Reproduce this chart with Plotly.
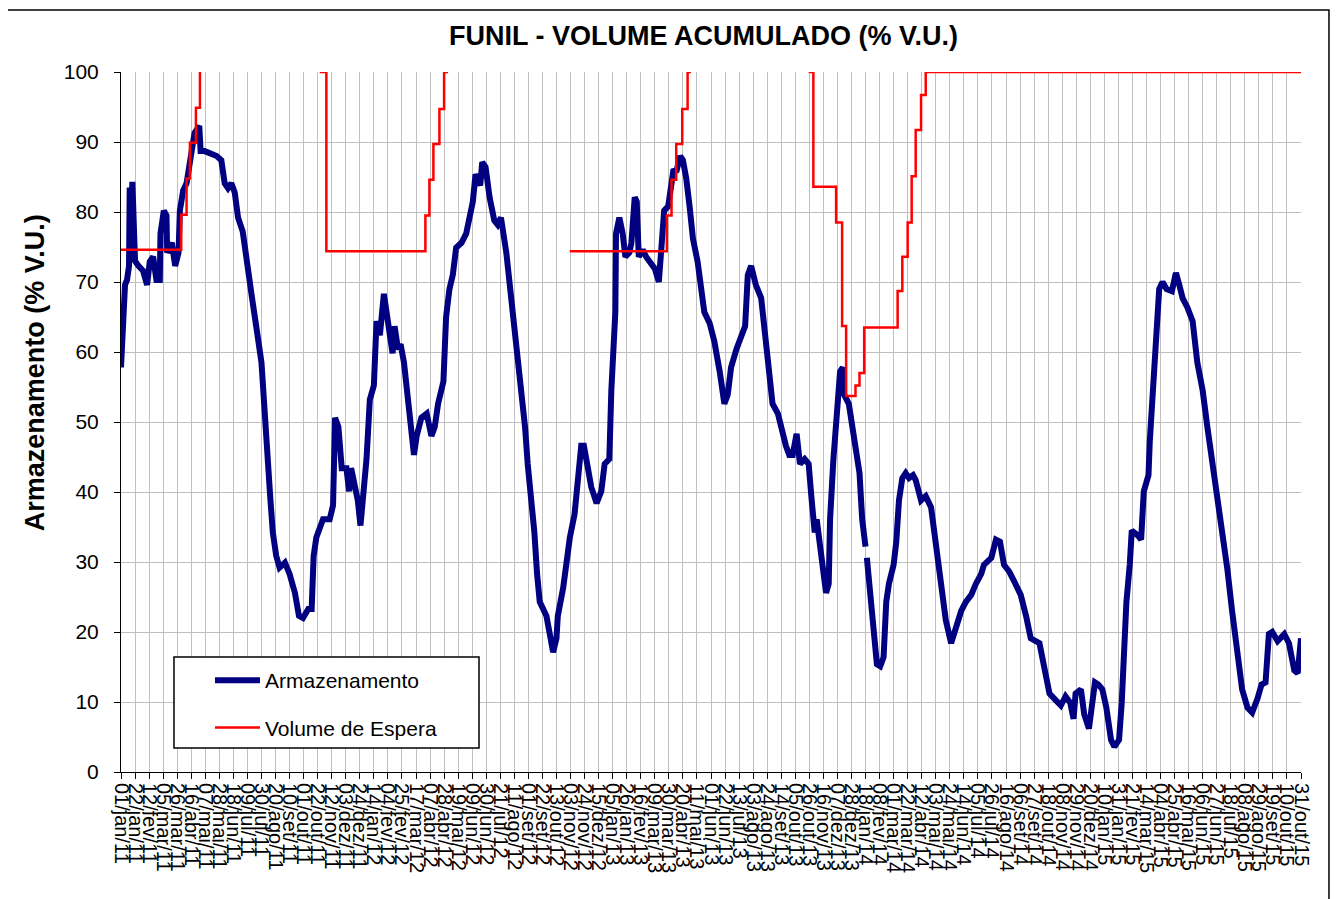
import plotly.graph_objects as go
import pandas as pd

inicio = pd.Timestamp("2011-01-01")

# Armazenamento (% V.U.) -- dia = dias desde 01/jan/11
dia_arm = [0, 4, 6, 9, 12, 13, 15, 17, 19, 21, 26, 33, 39, 43, 48, 53, 58, 59, 64, 68, 69, 76, 81, 86, 88, 93,
           98, 101, 106, 110, 117, 119, 125, 135, 143, 150, 155, 160, 165, 170, 175, 182, 188, 195, 203, 210,
           214, 218, 223, 227, 232, 237, 245, 252, 260, 266, 272, 280, 285, 288, 292, 302, 312, 317, 320, 325,
           330, 337, 341, 344, 349, 354, 358, 362, 367, 372, 378, 382, 387, 393, 397, 402, 406, 409, 414, 418,
           423, 428, 434, 438, 442, 449, 457, 464, 469, 474, 482, 486, 491, 496, 501, 509, 516, 521, 526, 530,
           533, 537, 540, 545, 551, 558, 563, 568, 576, 583, 586, 593, 599, 604, 608, 613, 618, 622, 626, 636,
           641, 646, 651, 653, 661, 666, 671, 678, 683, 688, 692, 697, 703, 711, 718, 723, 730, 733, 736, 739,
           740, 745, 750, 754, 760, 763, 768, 771, 774, 780, 785, 793, 798, 804, 808, 812, 818, 823, 826, 830,
           836, 840, 845, 850, 855, 862, 867, 872, 880, 887, 895, 902, 907, 912, 920, 927, 933, 937, 942, 949,
           957, 963, 969, 974, 982, 988, 994, 999, 1004, 1010, 1015, 1022, 1028, 1032, 1037, 1040, 1044, 1049,
           1054, 1058, 1060, 1065, 1069, 1071, 1075, 1079, 1081, 1088, 1094, 1099, 1104, 1108, 1113, 1114,
           1115, 1119, 1124, 1130, 1135, 1140, 1144, 1148, 1155, 1159, 1163, 1168, 1173, 1178, 1184, 1188,
           1196, 1203, 1211, 1218, 1226, 1233, 1241, 1248, 1256, 1263, 1271, 1278, 1286, 1290, 1301, 1308,
           1314, 1320, 1328, 1337, 1345, 1353, 1360, 1373, 1380, 1388, 1398, 1405, 1412, 1419, 1424, 1427,
           1435, 1440, 1447, 1451, 1456, 1461, 1467, 1473, 1480, 1485, 1492, 1496, 1500, 1503, 1508, 1511,
           1520, 1525, 1529, 1536, 1538, 1542, 1547, 1549, 1552, 1557, 1563, 1571, 1577, 1582, 1587, 1594,
           1602, 1609, 1617, 1624, 1631, 1639, 1646, 1654, 1661, 1669, 1676, 1684, 1691, 1699, 1705, 1711,
           1716, 1721, 1729, 1739, 1746, 1754, 1759, 1764]
armazenamento = [57.8, 65.0, 69.6, 70.3, 72.3, 83.5, 78.0, 84.3, 80.0, 73.0, 72.3, 71.6, 69.6, 72.9, 73.6, 70.3,
                 70.3, 76.9, 80.2, 79.5, 74.2, 75.6, 72.3, 74.2, 80.2, 83.1, 84.1, 86.1, 89.4, 91.3, 92.3, 88.7,
                 88.7, 88.4, 88.0, 87.4, 84.1, 83.4, 84.1, 82.8, 79.2, 77.2, 73.6, 68.3, 63.1, 58.5, 52.6, 45.3,
                 39.4, 34.2, 30.9, 29.2, 29.9, 28.3, 25.6, 22.3, 22.0, 23.3, 23.3, 30.9, 33.5, 36.1, 36.1, 38.1,
                 50.6, 49.3, 43.4, 43.4, 40.1, 43.4, 40.7, 38.8, 35.2, 39.4, 44.7, 53.2, 55.2, 64.4, 62.4, 68.3,
                 65.0, 62.4, 59.8, 63.7, 60.4, 61.1, 58.5, 54.5, 49.3, 45.3, 48.0, 50.6, 51.2, 48.0, 49.3, 52.6,
                 55.8, 65.0, 69.0, 71.0, 74.9, 75.6, 76.9, 78.8, 81.5, 85.4, 84.8, 83.8, 87.1, 86.4, 82.1, 78.8,
                 78.2, 79.2, 74.2, 67.7, 65.0, 59.1, 54.5, 49.3, 44.0, 39.4, 34.2, 28.3, 24.3, 22.3, 19.1, 17.1,
                 19.1, 22.3, 26.3, 30.9, 33.5, 36.8, 42.7, 46.6, 46.6, 43.4, 40.7, 38.4, 40.1, 44.0, 44.7, 54.5,
                 59.1, 65.7, 76.9, 79.2, 76.9, 73.6, 74.2, 75.6, 82.1, 81.5, 73.6, 74.6, 73.6, 72.3, 71.9, 70.0,
                 74.9, 80.2, 80.8, 84.1, 86.1, 85.7, 88.0, 87.4, 84.8, 80.8, 76.2, 72.9, 69.0, 65.7, 64.1, 61.5,
                 57.2, 52.6, 53.9, 57.8, 60.4, 62.4, 63.7, 71.0, 72.3, 69.6, 67.7, 62.4, 57.2, 52.6, 51.2, 48.6,
                 46.6, 45.3, 45.3, 48.3, 44.0, 44.7, 44.0, 39.4, 34.2, 36.1, 33.5, 30.2, 25.6, 26.9, 36.1, 44.7,
                 49.3, 51.9, 57.2, 57.8, 53.9, 52.6, 49.3, 45.3, 42.7, 36.1, 32.2, None, 30.6, 26.3, 19.7, 15.4,
                 15.1, 16.4, 24.3, 26.9, 29.6, 32.9, 38.8, 42.0, 42.7, 42.0, 42.4, 41.7, 38.8, 39.4, 37.8, 32.9,
                 26.9, 21.7, 18.4, 20.4, 23.0, 24.3, 25.3, 26.9, 28.3, 29.6, 30.6, 33.2, 32.9, 29.6, 28.6, 26.9,
                 25.3, 22.3, 19.1, 18.4, 14.5, 11.2, 10.2, 9.5, 10.8, 9.9, 7.6, 11.2, 11.8, 8.2, 6.2, 9.9, 12.8,
                 12.5, 11.8, 9.2, 4.6, 3.6, 4.6, 9.9, 18.4, 24.3, 29.6, 34.5, 33.8, 33.2, 40.1, 42.4, 47.3, 53.9,
                 59.8, 66.4, 69.0, 70.0, 69.0, 68.7, 71.3, 69.6, 67.7, 66.4, 64.4, 58.5, 54.5, 49.3, 44.7, 40.1,
                 34.8, 28.9, 23.0, 16.4, 11.8, 9.2, 8.5, 10.5, 12.5, 12.8, 19.7, 20.0, 18.7, 19.7, 18.4, 14.5,
                 14.1, 19.1]

# Volume de Espera (% V.U.) -- degraus; None = sem dado
dia_esp = [0, 90, 98, 103, 112, 118, 119,
           297, 307, 455, 461, 467, 476, 483, 489, 490,
           671, 816, 823, 830, 839, 847, 852, 853,
           1028, 1035, 1069, 1078, 1084, 1098, 1104, 1111, 1161, 1168, 1176, 1182, 1188, 1196, 1203, 1764]
volume_espera = [74.6, 79.6, 84.8, 89.9, 94.9, 100.0, None,
                 100.0, 74.4, 79.5, 84.6, 89.7, 94.7, 100.0, 100.0, None,
                 74.4, 79.5, 84.6, 89.7, 94.7, 100.0, 100.0, None,
                 100.0, 83.6, 78.5, 63.7, 53.7, 55.2, 57.0, 63.5, 68.7, 73.6, 78.5, 85.1, 91.7, 96.7, 100.0, 100.0]

rotulos_x = ["01/jan/11", "22/jan/11", "12/fev/11", "05/mar/11", "26/mar/11", "16/abr/11", "07/mai/11",
             "28/mai/11", "18/jun/11", "09/jul/11", "30/jul/11", "20/ago/11", "10/set/11", "01/out/11",
             "22/out/11", "12/nov/11", "03/dez/11", "24/dez/11", "14/jan/12", "04/fev/12", "25/fev/12",
             "17/mar/12", "07/abr/12", "28/abr/12", "19/mai/12", "09/jun/12", "30/jun/12", "21/jul/12",
             "11/ago/12", "01/set/12", "22/set/12", "13/out/12", "03/nov/12", "24/nov/12", "15/dez/12",
             "05/jan/13", "26/jan/13", "16/fev/13", "09/mar/13", "30/mar/13", "20/abr/13", "11/mai/13",
             "01/jun/13", "22/jun/13", "13/jul/13", "03/ago/13", "24/ago/13", "14/set/13", "05/out/13",
             "26/out/13", "16/nov/13", "07/dez/13", "28/dez/13", "18/jan/14", "08/fev/14", "01/mar/14",
             "22/mar/14", "12/abr/14", "03/mai/14", "24/mai/14", "14/jun/14", "05/jul/14", "26/jul/14",
             "16/ago/14", "06/set/14", "27/set/14", "18/out/14", "08/nov/14", "29/nov/14", "20/dez/14",
             "10/jan/15", "31/jan/15", "21/fev/15", "14/mar/15", "04/abr/15", "25/abr/15", "16/mai/15",
             "06/jun/15", "27/jun/15", "18/jul/15", "08/ago/15", "29/ago/15", "19/set/15", "10/out/15",
             "31/out/15"]

x_arm = [inicio + pd.Timedelta(days=d) for d in dia_arm]
x_esp = [inicio + pd.Timedelta(days=d) for d in dia_esp]
tickvals = list(pd.date_range(inicio, periods=len(rotulos_x), freq="21D"))
x_range = [inicio, inicio + pd.Timedelta(days=1764)]

FONT = "Arial, Liberation Sans, sans-serif"

fig = go.Figure()
fig.add_trace(go.Scatter(x=x_arm, y=armazenamento, mode="lines", name="Armazenamento",
                         legendgroup="a", connectgaps=False,
                         line=dict(color="#000080", width=6)))
fig.add_trace(go.Scatter(x=x_esp, y=volume_espera, mode="lines", name="Volume de Espera",
                         legendgroup="b", connectgaps=False, xaxis="x2",
                         line=dict(color="#FF0000", width=2.5, shape="hv")))

common_x = dict(type="date", range=x_range, tickmode="array", tickangle=90,
                tickfont=dict(family=FONT, size=20, color="black"),
                showgrid=True, gridcolor="#c0c0c0", gridwidth=1,
                ticks="outside", ticklen=6, tickcolor="black", zeroline=False)

fig.update_layout(
    width=1338, height=899, autosize=False,
    margin=dict(l=113, r=45, t=64, b=135),
    paper_bgcolor="white", plot_bgcolor="white",
    font=dict(family=FONT, color="black"),
    title=dict(text="FUNIL - VOLUME ACUMULADO (% V.U.)", x=695.5 / 1338, xref="container", xanchor="center",
               y=1 - 28 / 899, yref="container", yanchor="middle",
               font=dict(family=FONT, size=27, weight="bold", color="black")),
    showlegend=True,
    legend=dict(x=0.0754, y=0.160, xanchor="left", yanchor="top", bgcolor="rgba(0,0,0,0)",
                borderwidth=0, font=dict(family=FONT, size=21, color="black"),
                tracegroupgap=17, itemwidth=45, orientation="v"),
    xaxis=dict(**common_x, tickvals=tickvals[0::2], ticktext=rotulos_x[0::2],
               showline=True, linecolor="black", linewidth=1),
    xaxis2=dict(**common_x, tickvals=tickvals[1::2], ticktext=rotulos_x[1::2],
                overlaying="x", side="bottom", anchor="y", showline=False),
    yaxis=dict(range=[0, 100], tickmode="linear", tick0=0, dtick=10,
               tickfont=dict(family=FONT, size=21, color="black"),
               showgrid=True, gridcolor="#c0c0c0", gridwidth=1,
               ticks="outside", ticklen=6, tickcolor="black", ticklabelstandoff=11,
               showline=True, linecolor="black", linewidth=1, zeroline=False),
    annotations=[dict(text="Armazenamento (% V.U.)", x=-0.0729, y=0.571, xref="paper", yref="paper",
                      textangle=-90, showarrow=False, xanchor="center", yanchor="middle",
                      font=dict(family=FONT, size=27, weight="bold", color="black"))],
    shapes=[
        dict(type="rect", xref="paper", yref="paper", x0=0.0449, x1=0.3034, y0=0.0343, y1=0.1643,
             line=dict(color="black", width=1.5), fillcolor="white", layer="above"),
        dict(type="rect", xref="paper", yref="paper", x0=-0.0966, x1=1.0237, y0=-0.2, y1=1.0886,
             line=dict(color="black", width=1.5), fillcolor="rgba(0,0,0,0)", layer="below"),
    ],
)

fig.write_html("out.html")
